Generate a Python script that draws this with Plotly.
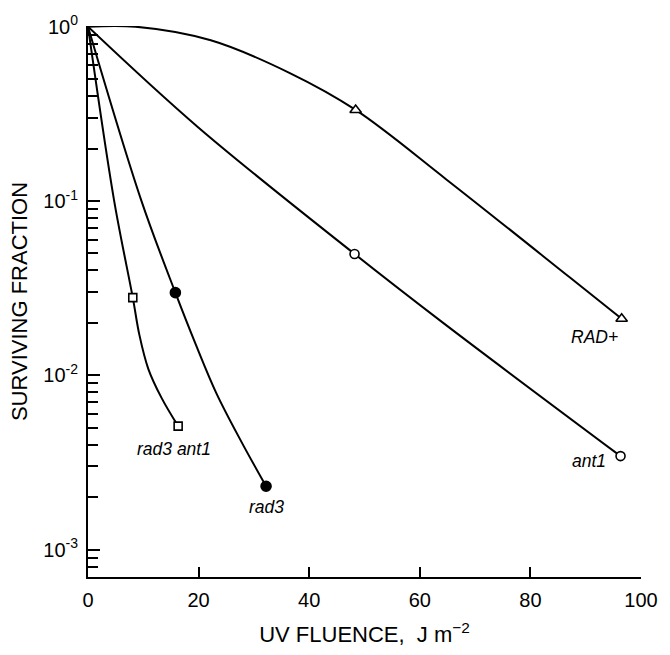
import math
import plotly.graph_objects as go

# ---- measured survival points (UV fluence J/m^2, surviving fraction) ----
strains = ["RAD+", "ant1", "rad3", "rad3 ant1"]

rad_plus_dose = [48.4, 96.5]
rad_plus_surv = [0.333, 0.0211]
ant1_dose = [48.2, 96.3]
ant1_surv = [0.0497, 0.00344]
rad3_dose = [15.8, 32.2]
rad3_surv = [0.0298, 0.00231]
rad3ant1_dose = [8.1, 16.3]
rad3ant1_surv = [0.0279, 0.00511]

# ---- hand-drawn survival curves ----
rad_plus_curve_x = [0, 8.6, 22.2, 36.5, 48.4, 64.8, 87.1, 96.5]
rad_plus_curve_y = [1.0, 1.0, 0.836, 0.542, 0.333, 0.133, 0.0365, 0.0211]
ant1_curve_x = [0, 19.9, 48.2, 64.4, 96.3]
ant1_curve_y = [1.0, 0.265, 0.0497, 0.0198, 0.00344]
rad3_curve_x = [0, 9.6, 15.8, 19.5, 23.2, 27.7, 32.2]
rad3_curve_y = [1.0, 0.1016, 0.0298, 0.0150, 0.00791, 0.00418, 0.00231]
rad3ant1_curve_x = [0, 4.7, 8.1, 9.3, 10.9, 13.3, 16.3]
rad3ant1_curve_y = [1.0, 0.1016, 0.0279, 0.0170, 0.0109, 0.00742, 0.00511]

x_tickvals = [0, 20, 40, 60, 80, 100]
y_tickvals = [0.001, 0.01, 0.1, 1]
y_ticktext = ["10<sup>-3</sup>", "10<sup>-2</sup>", "10<sup>-1</sup>", "10<sup>0</sup>"]

FONT = "Liberation Sans, Arial, Helvetica, sans-serif"

fig = go.Figure()

curves = [
    (rad_plus_curve_x, rad_plus_curve_y),
    (ant1_curve_x, ant1_curve_y),
    (rad3_curve_x, rad3_curve_y),
    (rad3ant1_curve_x, rad3ant1_curve_y),
]
for (cx, cy), name in zip(curves, strains):
    fig.add_trace(go.Scatter(
        x=cx, y=cy, mode="lines", name=name + " curve",
        line=dict(color="black", width=2, shape="spline", smoothing=1.0),
        showlegend=False, hoverinfo="skip",
    ))

markers = [
    (rad_plus_dose, rad_plus_surv, "triangle-up", 10, "white"),
    (ant1_dose, ant1_surv, "circle", 9, "white"),
    (rad3_dose, rad3_surv, "circle", 10, "black"),
    (rad3ant1_dose, rad3ant1_surv, "square", 8, "white"),
]
for (dx, dy, sym, size, fill), name in zip(markers, strains):
    fig.add_trace(go.Scatter(
        x=dx, y=dy, mode="markers", name=name,
        marker=dict(symbol=sym, size=size, color=fill,
                    line=dict(color="black", width=1.6)),
        showlegend=False, cliponaxis=False,
    ))

# strain labels anchored to the last measured point of each strain
label_offsets = {"RAD+": (-27, -18), "ant1": (-32, -5), "rad3": (0, -21), "rad3 ant1": (-4, -23)}
last_points = {
    "RAD+": (rad_plus_dose[-1], rad_plus_surv[-1]),
    "ant1": (ant1_dose[-1], ant1_surv[-1]),
    "rad3": (rad3_dose[-1], rad3_surv[-1]),
    "rad3 ant1": (rad3ant1_dose[-1], rad3ant1_surv[-1]),
}
for name in strains:
    px, py = last_points[name]
    xs, ys = label_offsets[name]
    fig.add_annotation(
        x=px, y=math.log10(py), xref="x", yref="y",
        text="<i>" + name + "</i>", showarrow=False,
        xshift=xs, yshift=ys,
        font=dict(family=FONT, size=17.5, color="black"),
    )

minor_vals = [m * 10.0 ** e for e in (-4, -3, -2, -1) for m in range(2, 10)]

fig.update_layout(
    width=670, height=655,
    margin=dict(l=88, r=19, t=20, b=65),
    paper_bgcolor="white", plot_bgcolor="white",
    font=dict(family=FONT, color="black", size=20),
    xaxis=dict(
        range=[0, 100], tickvals=x_tickvals, ticks="inside", ticklen=10,
        tickwidth=1.5, tickcolor="black", showline=True, linecolor="black",
        linewidth=2, showgrid=False, zeroline=False, mirror=False,
        tickfont=dict(size=20), ticklabelstandoff=4,
        title=dict(text="UV FLUENCE,  J m<sup>−2</sup>", font=dict(size=22), standoff=17),
    ),
    yaxis=dict(
        type="log", range=[-3.157, 0.004], tickvals=y_tickvals, ticktext=y_ticktext,
        ticks="inside", ticklen=12, tickwidth=1.5, tickcolor="black",
        showline=True, linecolor="black", linewidth=2, showgrid=False,
        zeroline=False, mirror=False, tickfont=dict(size=20), ticklabelstandoff=4,
        minor=dict(tickvals=minor_vals, ticks="inside", ticklen=10, tickwidth=1.5,
                   tickcolor="black", showgrid=False),
        title=dict(text="SURVIVING FRACTION", font=dict(size=22), standoff=10),
    ),
)

fig.write_html("out.html")
